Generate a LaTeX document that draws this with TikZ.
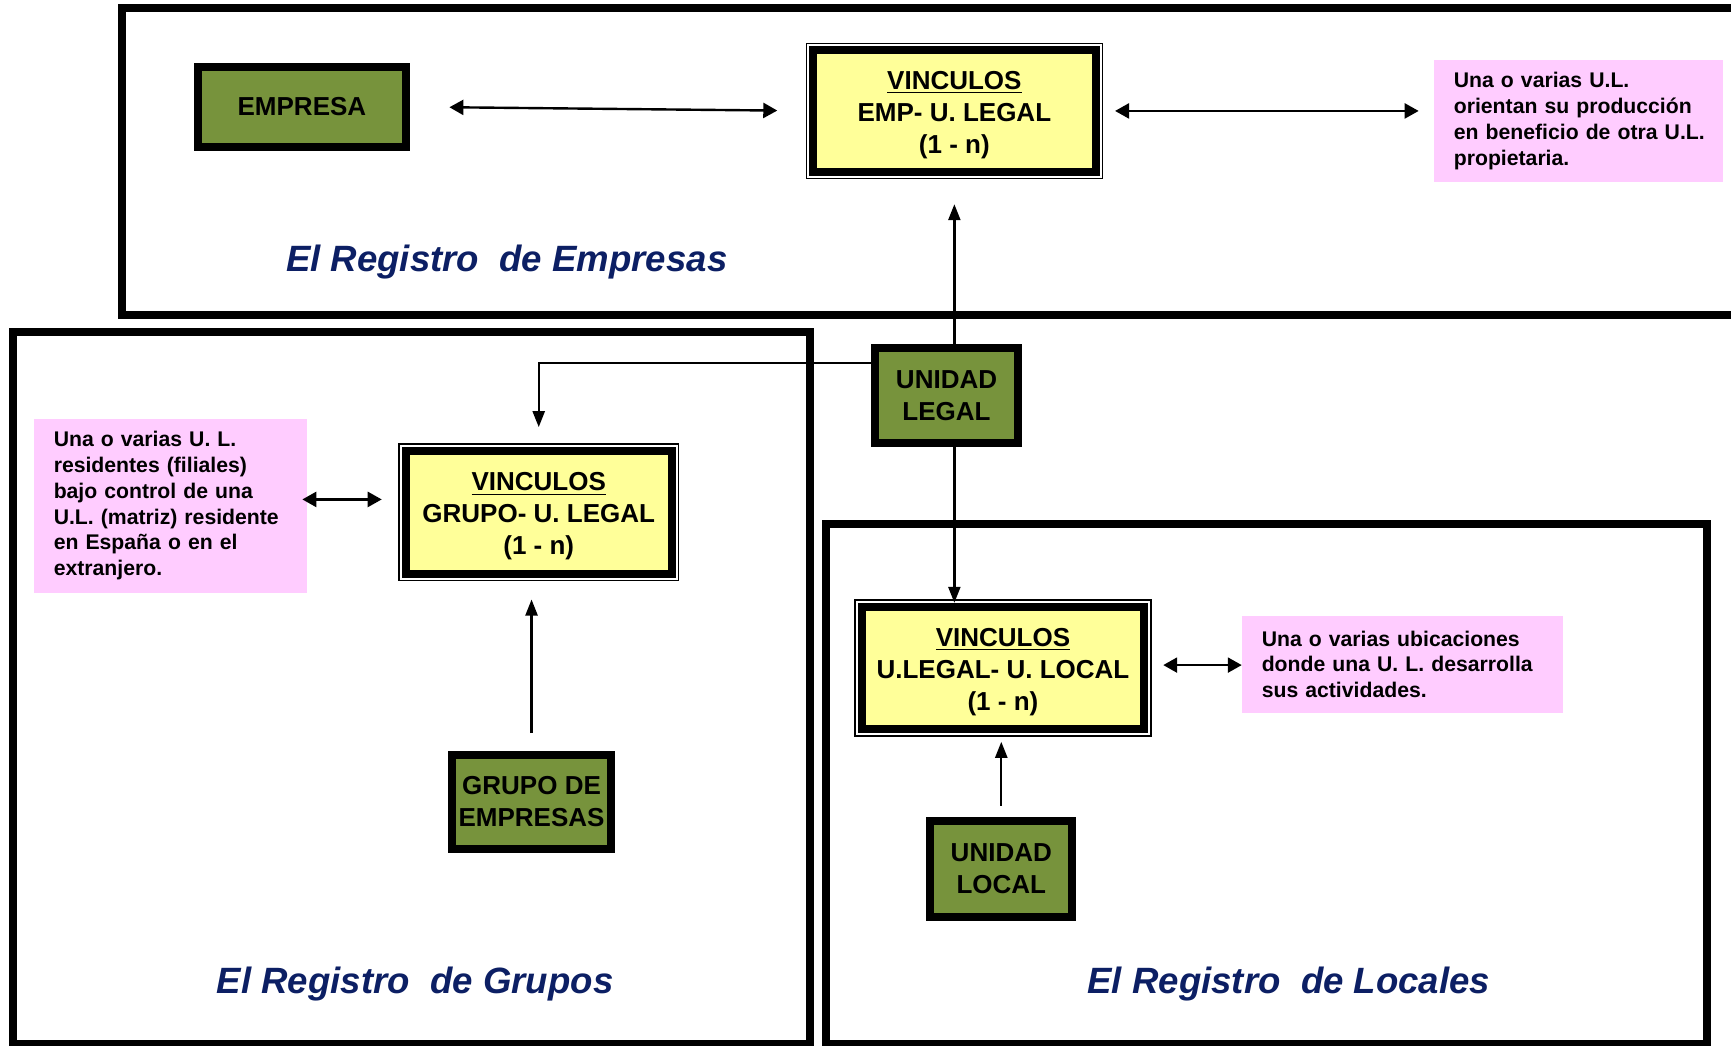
\documentclass[tikz,border=0pt]{standalone}
\usepackage{fontspec}
\setmainfont{Liberation Sans}
\usetikzlibrary{arrows.meta}
\definecolor{olivec}{HTML}{77933C}
\definecolor{vyellow}{HTML}{FFFF99}
\definecolor{vpink}{HTML}{FFCCFF}
\definecolor{titleblue}{HTML}{0C1F64}
\begin{document}
\begin{tikzpicture}[x=0.552pt, y=-0.552pt,
  frame/.style={line width=4pt},
  gbox/.style={draw=black, line width=4pt, fill=olivec, inner sep=0pt, outer sep=0pt,
    align=center, font=\fontsize{13}{16}\selectfont\bfseries},
  vbox/.style={draw=black, line width=4pt, fill=vyellow, inner sep=0pt, outer sep=0pt,
    align=center, font=\fontsize{13}{16}\selectfont\bfseries,
    preaction={draw=black, line width=7.5pt},
    preaction={draw=white, line width=6pt}},
  pbox/.style={fill=vpink, inner ysep=0pt, outer sep=0pt, align=left,
    font=\fontsize{10.6}{12.9}\selectfont\bfseries},
  title/.style={anchor=base, text=titleblue, inner sep=0pt,
    font=\fontsize{18.3}{22}\selectfont\bfseries\itshape},
  conn/.style={line width=1.2pt, -{Triangle[length=8pt,width=6pt]}},
  dbl/.style={line width=1.2pt, {Triangle[length=7pt,width=7.5pt]}-{Triangle[length=7pt,width=7.5pt]}},
]
\useasboundingbox (0,0) rectangle (1568,947);
\clip (0,0) rectangle (1568,947);

% frames
\draw[frame] (110.6,6.8) rectangle (1620,285);
\draw[frame] (11.8,300.7) rectangle (733.7,946);
\draw[frame] (748,474.6) rectangle (1546.7,946);

% titles
\node[title] (t1) at (459,246) {El Registro~~de Empresas};
\node[title] (t2) at (376,900) {El Registro~~de Grupos};
\node[title] (t3) at (1167.5,900) {El Registro~~de Locales};

% nodes
\node[gbox, minimum width=103.7pt, minimum height=39.9pt] (emp) at (273.5,96.75) {EMPRESA};
\node[vbox, minimum width=141.3pt, minimum height=60.7pt] (v1) at (864.5,100.5)
  {\rule{0pt}{13pt}\underline{VINCULOS}\\EMP- U. LEGAL\\(1 - n)};
\node[pbox, text width=124.8pt, inner xsep=9.9pt, minimum height=61.3pt] (p1) at (1430,109.5)
  {Una o varias U.L.\\orientan su producción\\\mbox{en beneficio de otra U.L.}\\propietaria.};

\node[gbox, minimum width=71.5pt, minimum height=47.6pt] (ul) at (857.4,358.3) {UNIDAD\\LEGAL};

\node[vbox, minimum width=133pt, minimum height=61.3pt] (v2) at (488,464)
  {\rule{0pt}{13.4pt}\underline{VINCULOS}\\GRUPO- U. LEGAL\\(1 - n)};
\node[pbox, text width=116.7pt, inner xsep=9.9pt, minimum height=86.8pt] (p2) at (154.4,458.15)
  {Una o varias U. L.\\residentes (filiales)\\bajo control de una\\\mbox{U.L. (matriz) residente}\\en España o en el\\extranjero.};
\node[gbox, minimum width=79.4pt, minimum height=47.3pt] (ge) at (481.5,726.5) {GRUPO DE\\EMPRESAS};

\node[vbox, minimum width=141.3pt, minimum height=61.3pt] (v3) at (908.5,605)
  {\rule{0pt}{13pt}\underline{VINCULOS}\\U.LEGAL- U. LOCAL\\(1 - n)};
\node[pbox, text width=140.6pt, inner xsep=10pt, minimum height=48.3pt] (p3) at (1270.3,601.75)
  {Una o varias ubicaciones\\\mbox{donde una U. L. desarrolla}\\sus actividades.};
\node[gbox, minimum width=71.1pt, minimum height=47.9pt] (ulo) at (907,787) {UNIDAD\\LOCAL};

% connectors
\draw[dbl, shorten <=21.9pt, shorten >=17.9pt] (emp.east) -- (v1.west);
\draw[dbl, shorten <=9.7pt, shorten >=7.7pt] (v1.east) -- (v1.east -| p1.west);
\draw[dbl, shorten <=-2.3pt, shorten >=12pt] ([yshift=6.4pt]v2.west -| p2.east) -- ([yshift=6.4pt]v2.west);
\draw[dbl, shorten <=9.5pt] ([yshift=1.4pt]v3.east) -- ([yshift=1.4pt]v3.east -| p3.west);

\draw[conn, shorten >=16.3pt] (ul.north -| v1.south) -- (v1.south);
\draw[conn, shorten >=11.9pt] ([yshift=16.3pt]ul.west) -| (v2.north);
\draw[conn, shorten >=1.9pt] (ul.south -| v1.south) -- (v3.north -| v1.south);
\draw[conn, shorten <=10.8pt, shorten >=13pt] (ge.north) -- (ge.north |- v2.south);
\draw[conn, shorten <=7.6pt, shorten >=6.3pt] (ulo.north) -- (ulo.north |- v3.south);
\end{tikzpicture}
\end{document}
